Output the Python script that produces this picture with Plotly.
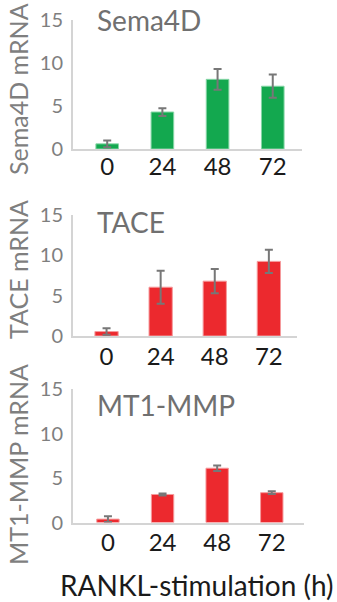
import plotly.graph_objects as go

W, H = 337, 602

# RANKL stimulation time points (h)
hours = ["0", "24", "48", "72"]

# relative mRNA expression, mean and error
sema4d = [0.6, 4.3, 8.1, 7.3]
sema4d_err = [0.4, 0.45, 1.2, 1.35]

tace = [0.55, 6.05, 6.8, 9.25]
tace_err = [0.4, 2.05, 1.5, 1.45]

mt1mmp = [0.38, 3.15, 6.1, 3.35]
mt1mmp_err = [0.33, 0.12, 0.3, 0.15]

panel_names = ["Sema4D", "TACE", "MT1-MMP"]
axis_titles = ["Sema4D mRNA", "TACE mRNA", "MT1-MMP mRNA"]
y_ticks = [0, 5, 10, 15]

GREEN, GREEN_EDGE = "#13A84F", "#86D6A6"
RED, RED_EDGE = "#EC292E", "#F59A9C"
ERR = "#777777"
AXIS = "#D4D4D4"
GREY_TXT = "#7F7F7F"
FONT = "Lato, 'Open Sans', sans-serif"


def px_x(x):
    return x / W


def px_y(y):
    return 1 - y / H


# per-panel geometry in pixels: x-axis left/right, y of 0 and of 15,
# category range, bar width, tick-label gap, gene-name y, y-title y
panels = [
    dict(vals=sema4d, err=sema4d_err, color=GREEN, edge=GREEN_EDGE,
         x0=73, x1=302, y0=149, y15=20, rng=[-0.62, 3.53], bw=0.41,
         stand=-5, ty=20, yty=89),
    dict(vals=tace, err=tace_err, color=RED, edge=RED_EDGE,
         x0=73, x1=297, y0=336, y15=215, rng=[-0.62, 3.52], bw=0.43,
         stand=-2, ty=221.5, yty=270),
    dict(vals=mt1mmp, err=mt1mmp_err, color=RED, edge=RED_EDGE,
         x0=73, x1=304, y0=522.5, y15=389, rng=[-0.64, 3.59], bw=0.41,
         stand=-2, ty=405, yty=465),
]

fig = go.Figure()
annotations = []

for i, p in enumerate(panels):
    n = "" if i == 0 else str(i + 1)
    fig.add_trace(go.Bar(
        x=hours, y=p["vals"], width=p["bw"],
        marker=dict(color=p["color"], line=dict(color=p["edge"], width=1)),
        error_y=dict(type="data", array=p["err"], visible=True,
                     color=ERR, thickness=2, width=4),
        xaxis="x" + n, yaxis="y" + n, showlegend=False, hoverinfo="skip",
    ))
    fig.layout["xaxis" + n] = dict(
        domain=[px_x(p["x0"]), px_x(p["x1"])],
        anchor="y" + n, type="category", range=p["rng"],
        showline=True, linecolor=AXIS, linewidth=2,
        ticks="", showgrid=False, zeroline=False, automargin=False,
        tickfont=dict(family=FONT, size=24, color="#1A1A1A"),
        ticklabelstandoff=p["stand"], fixedrange=True,
    )
    fig.layout["yaxis" + n] = dict(
        domain=[px_y(p["y0"]), px_y(p["y15"])],
        anchor="x" + n, range=[0, 15], tickvals=y_ticks,
        showline=True, linecolor=AXIS, linewidth=2,
        ticks="", showgrid=False, zeroline=False, automargin=False,
        tickfont=dict(family=FONT, size=20, color=GREY_TXT),
        ticklabelstandoff=4, fixedrange=True,
    )
    # gene name inside the panel
    annotations.append(dict(
        text=panel_names[i], xref="paper", yref="paper",
        x=px_x(95), y=px_y(p["ty"]), xanchor="left", yanchor="middle",
        showarrow=False, font=dict(family=FONT, size=28, color="#707070"),
    ))
    # rotated y-axis title
    annotations.append(dict(
        text=axis_titles[i], xref="paper", yref="paper", textangle=-90,
        x=px_x(18), y=px_y(p["yty"]), xanchor="center", yanchor="middle",
        showarrow=False, font=dict(family=FONT, size=25, color=GREY_TXT),
    ))

annotations.append(dict(
    text="RANKL-stimulation (h)", xref="paper", yref="paper",
    x=px_x(197), y=px_y(585), xanchor="center", yanchor="middle",
    showarrow=False, font=dict(family=FONT, size=28, color="#1A1A1A"),
))

fig.update_layout(
    width=W, height=H,
    margin=dict(l=0, r=0, t=0, b=0),
    paper_bgcolor="white", plot_bgcolor="white",
    annotations=annotations,
)

fig.write_html("out.html", config={"displayModeBar": False})
